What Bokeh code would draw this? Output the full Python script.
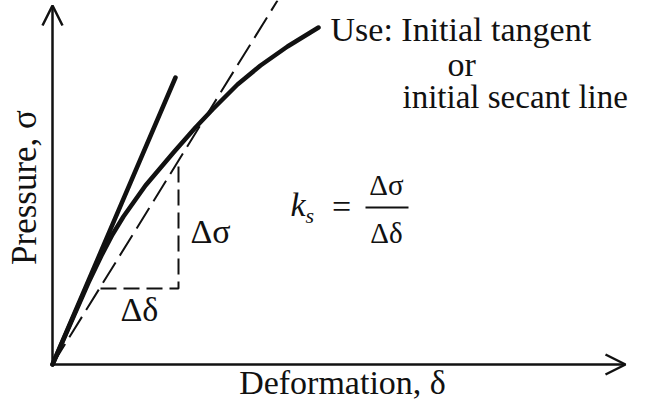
from bokeh.plotting import figure
from bokeh.models import Range1d, Arrow, OpenHead, Label
from bokeh.embed import file_html
from bokeh.resources import INLINE

# ---- data (arbitrary units, origin at 0,0) ----
deformation = [0, 18, 36, 49, 60, 71, 93, 121, 143, 160, 185, 208, 235, 266]
pressure = [0, 41, 82, 109, 130, 148, 179, 212, 237, 255, 280, 299, 318, 337]

tangent_x = [0, 123]
tangent_y = [0, 287]

secant_x = [0, 225]
secant_y = [0, 364]

step_x = [48, 126, 126]
step_y = [76, 76, 202]

x_axis_end = 573
y_axis_end = 359

FONT = "Liberation Serif"
INK = "#111111"

p = figure(width=629, height=400, output_backend="svg", toolbar_location=None,
           x_range=Range1d(-52, 577), y_range=Range1d(-36, 364),
           x_axis_location=None, y_axis_location=None, min_border=0)
p.grid.visible = False
p.outline_line_color = None
p.background_fill_color = "white"
p.border_fill_color = "white"

# axes as arrows
p.add_layout(Arrow(end=OpenHead(size=20, line_width=2.5, line_color=INK),
                   x_start=0, y_start=0, x_end=0, y_end=y_axis_end,
                   line_width=2.5, line_color=INK))
p.add_layout(Arrow(end=OpenHead(size=20, line_width=2.5, line_color=INK),
                   x_start=0, y_start=0, x_end=x_axis_end, y_end=0,
                   line_width=2.5, line_color=INK))

# secant (dashed)
p.line(secant_x, secant_y, line_width=2, line_color=INK, line_dash="24 8")
# delta triangle (dashed)
p.line(step_x, step_y, line_width=2, line_color=INK, line_dash="16 7")
# initial tangent (solid)
p.line(tangent_x, tangent_y, line_width=4.5, line_color=INK, line_cap="round")
# pressure-deformation curve
p.line(deformation, pressure, line_width=4.5, line_color=INK,
       line_cap="round", line_join="round")

def lab(text, x, y, size, align="left", angle=0, style="normal"):
    p.add_layout(Label(x=x, y=y, text=text, text_font=FONT,
                       text_font_size=f"{size}px", text_color=INK,
                       text_align=align, text_baseline="middle",
                       angle=angle, text_font_style=style))

lab("Use: Initial tangent", 278, 335, 34)
lab("or", 395, 300, 34)
lab("initial secant line", 350, 268, 33)

lab("Pressure, σ", -28, 177, 35, align="center", angle=1.5707963)
lab("Deformation, δ", 290, -18, 34, align="center")

lab("Δσ", 138, 133, 34)
lab("Δδ", 68, 55, 34)

lab("k", 238, 160, 34, style="italic")
lab("s", 253, 149, 22, style="italic")
lab("=", 289, 158, 34, align="center")
lab("Δσ", 334, 180, 29, align="center")
lab("Δδ", 334, 132, 29, align="center")
p.line([313, 356], [157, 157], line_width=2, line_color=INK)

open("out.html", "w").write(file_html(p, INLINE))
